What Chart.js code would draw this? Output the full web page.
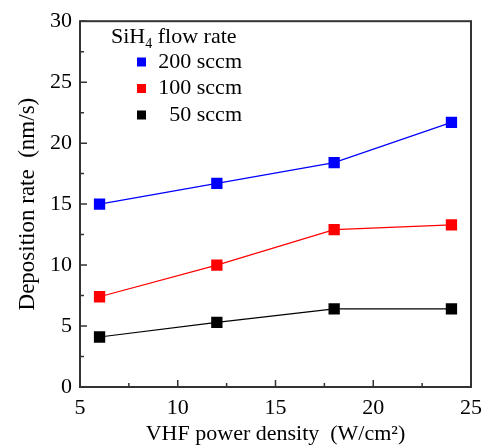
<!DOCTYPE html>
<html>
<head>
<meta charset="utf-8">
<script src="https://cdn.jsdelivr.net/npm/chart.js@4"></script>
<style>
  html, body { margin: 0; padding: 0; background: #fff; }
  #wrap { width: 490px; height: 447px; }
</style>
</head>
<body>
<div id="wrap"><canvas id="chart" width="490" height="447"></canvas></div>
<script>
// data
const powerDensity = [6, 12, 18, 24];
const rate200 = [15.0, 16.7, 18.4, 21.7];
const rate100 = [7.4, 10.0, 12.9, 13.3];
const rate50 = [4.1, 5.3, 6.4, 6.4];
const seriesLabels = ['200 sccm', '100 sccm', '50 sccm'];
const seriesColors = ['#0000ff', '#ff0000', '#000000'];
const xTicks = [5, 10, 15, 20, 25];
const yTicks = [0, 5, 10, 15, 20, 25, 30];

const FONT = '"Liberation Serif", "Times New Roman", serif';

function toPoints(ys) {
    return powerDensity.map((x, i) => ({ x: x, y: ys[i] }));
}

// frame + inward ticks + legend box
const framePlugin = {
    id: 'frame',
    afterDraw(chart) {
        const ctx = chart.ctx;
        const a = chart.chartArea;
        const xs = chart.scales.x, ys = chart.scales.y;
        ctx.save();
        ctx.strokeStyle = '#333';
        ctx.lineWidth = 2;
        ctx.strokeRect(a.left, a.top, a.right - a.left, a.bottom - a.top);

        ctx.lineWidth = 1.5;
        ctx.beginPath();
        for (let v = xs.min; v <= xs.max; v += 2.5) {
            const px = xs.getPixelForValue(v);
            const len = (v % 5 === 0) ? 7 : 4;
            ctx.moveTo(px, a.bottom);
            ctx.lineTo(px, a.bottom - len);
        }
        for (let v = ys.min; v <= ys.max; v += 2.5) {
            const py = ys.getPixelForValue(v);
            const len = (v % 5 === 0) ? 7 : 4;
            ctx.moveTo(a.left, py);
            ctx.lineTo(a.left + len, py);
        }
        ctx.stroke();

        // legend
        ctx.fillStyle = '#000';
        ctx.textBaseline = 'middle';
        ctx.font = '22px ' + FONT;
        ctx.textAlign = 'left';
        let tx = 111;
        ctx.fillText('SiH', tx, 37);
        tx += ctx.measureText('SiH').width;
        ctx.font = '14px ' + FONT;
        ctx.fillText('4', tx, 44);
        tx += ctx.measureText('4').width;
        ctx.font = '22px ' + FONT;
        ctx.fillText(' flow rate', tx, 37);

        chart.data.datasets.forEach((ds, i) => {
            const cy = 62 + i * 26.5;
            ctx.fillStyle = ds.backgroundColor;
            ctx.fillRect(137, cy - 4.5, 9, 9);
            ctx.fillStyle = '#000';
            ctx.textAlign = 'right';
            ctx.fillText(ds.label, 242, cy);
        });
        ctx.restore();
    }
};

const datasets = [rate200, rate100, rate50].map((d, i) => ({
    label: seriesLabels[i],
    data: toPoints(d),
    borderColor: seriesColors[i],
    backgroundColor: seriesColors[i],
    borderWidth: 1.2,
    pointStyle: 'rect',
    pointRadius: 8,
    pointBorderWidth: 0,
    tension: 0
}));

new Chart(document.getElementById('chart').getContext('2d'), {
    type: 'line',
    data: { datasets: datasets },
    options: {
        responsive: false,
        animation: false,
        layout: { padding: { left: 10, top: 15, right: 18, bottom: 0 } },
        plugins: {
            legend: { display: false },
            tooltip: { enabled: false }
        },
        scales: {
            x: {
                type: 'linear',
                min: 5, max: 25,
                afterBuildTicks: s => { s.ticks = xTicks.map(v => ({ value: v })); },
                afterFit: s => { s.height = 60; },
                grid: { display: false, drawTicks: false },
                border: { display: false },
                ticks: { color: '#000', padding: 8, font: { family: FONT, size: 22 } },
                title: {
                    display: true,
                    text: 'VHF power density  (W/cm\u00B2)',
                    color: '#000',
                    font: { family: FONT, size: 22 },
                    padding: { top: 0, bottom: 0 }
                }
            },
            y: {
                min: 0, max: 30,
                afterBuildTicks: s => { s.ticks = yTicks.map(v => ({ value: v })); },
                afterFit: s => { s.width = 70; },
                grid: { display: false, drawTicks: false },
                border: { display: false },
                ticks: { color: '#000', padding: 8, font: { family: FONT, size: 22 } },
                title: {
                    display: true,
                    text: 'Deposition rate  (nm/s)',
                    color: '#000',
                    font: { family: FONT, size: 23 },
                    padding: { top: 4, bottom: 4 }
                }
            }
        }
    },
    plugins: [framePlugin]
});
</script>
</body>
</html>
